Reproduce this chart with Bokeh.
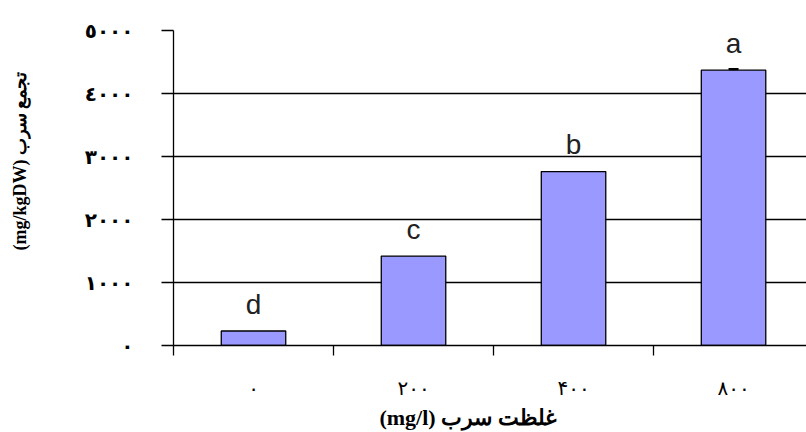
import numpy as np
from bokeh.plotting import figure
from bokeh.models import (Range1d, LinearAxis, FixedTicker, Grid, ColumnDataSource,
                          Whisker)
from bokeh.core.properties import value
from bokeh.embed import file_html
from bokeh.resources import INLINE

# ---- data ----
categories = ["۰", "٢٠٠", "۴٠٠", "٨٠٠"]          # lead concentration (mg/l)
lead_uptake = [230, 1420, 2760, 4370]             # mg/kgDW
group_letters = ["d", "c", "b", "a"]
errors = [0, 0, 0, 20]
y_ticks = [0, 1000, 2000, 3000, 4000, 5000]
y_tick_labels = ["٠", "١٠٠٠", "٢٠٠٠", "٣٠٠٠", "٤٠٠٠", "٥٠٠٠"]
x_title = "(mg/l) غلظت سرب"
y_title = "(mg/kgDW) تجمع سرب"

NBSP = "\u00a0"
n = len(categories)
centers = list(np.arange(n) + 0.5)
edges = list(np.arange(n + 1))

p = figure(width=806, height=432, output_backend="svg", toolbar_location=None,
           x_range=Range1d(0, 3.956), y_range=Range1d(0, 5000),
           x_axis_location=None, y_axis_location="left",
           min_border_left=173, min_border_right=0, min_border_top=30,
           min_border_bottom=87)
p.outline_line_color = None
p.background_fill_color = "white"
p.border_fill_color = "white"
p.xgrid.visible = False
p.ygrid.visible = False

src = ColumnDataSource(dict(x=centers, top=lead_uptake, lab=group_letters))
p.vbar(x="x", top="top", bottom=0, width=0.403, source=src,
       fill_color="#9999FF", line_color="black", line_width=1.3)

# grid lines
p.add_layout(Grid(dimension=1, ticker=FixedTicker(ticks=y_ticks[1:-1]),
                  grid_line_color="black", grid_line_width=1.3))
p.add_layout(Grid(dimension=1, ticker=FixedTicker(ticks=[y_ticks[-1]]),
                  grid_line_color="#a0a0a0", grid_line_width=1.3))

# letters
p.text(x="x", y="top", text="lab", source=src, text_align="center",
       text_baseline="alphabetic", y_offset=-27, text_color="#222222",
       text_font=value("Liberation Sans"), text_font_size="28px")

# error bar (only where > 0)
ex = [c for c, e in zip(centers, errors) if e > 0]
et = [v + e for v, e in zip(lead_uptake, errors) if e > 0]
eb = [v - e for v, e in zip(lead_uptake, errors) if e > 0]
wsrc = ColumnDataSource(dict(x=ex, upper=et, lower=eb))
w = Whisker(source=wsrc, base="x", upper="upper", lower="lower",
            line_color="black", line_width=2)
w.upper_head.size = 10
w.lower_head.size = 10
w.upper_head.line_width = 2
w.lower_head.line_width = 2
p.add_layout(w)

# y axis
yax = p.yaxis[0]
yax.ticker = FixedTicker(ticks=y_ticks)
yax.major_label_overrides = {t: l for t, l in zip(y_ticks, y_tick_labels)}
yax.major_tick_out = 12
yax.major_tick_in = 0
yax.minor_tick_out = 0
yax.minor_tick_in = 0
yax.axis_line_color = "black"
yax.axis_line_width = 1.3
yax.major_tick_line_width = 1.3
yax.major_label_standoff = 28
yax.major_label_text_font = "DejaVu Sans"
yax.major_label_text_font_style = "bold"
yax.major_label_text_font_size = "20px"
yax.major_label_text_color = "black"

# x axis: labels at category centres, tick marks at category edges
xax = LinearAxis(ticker=FixedTicker(ticks=centers, minor_ticks=edges),
                 major_label_overrides={c: l for c, l in zip(centers, categories)},
                 axis_line_width=1.3, axis_line_color="black",
                 major_tick_out=0, major_tick_in=0,
                 minor_tick_out=10, minor_tick_in=0, minor_tick_line_width=1.3,
                 minor_tick_line_color="black",
                 major_label_standoff=20,
                 major_label_text_font="DejaVu Sans",
                 major_label_text_font_size="20px",
                 major_label_text_color="black")
p.add_layout(xax, "below")

# axis titles on bare outer axes (non-breaking spaces shift them off-centre)
title_kw = dict(ticker=FixedTicker(ticks=[]), axis_line_color=None,
                major_tick_out=0, major_tick_in=0, minor_tick_out=0,
                minor_tick_in=0, major_label_standoff=0,
                axis_label_text_font="Liberation Serif",
                axis_label_text_font_style="bold", axis_label_text_color="black")
xt = LinearAxis(axis_label=x_title + NBSP * 8, axis_label_standoff=2,
                axis_label_text_font_size="22px", **title_kw)
p.add_layout(xt, "below")
yt = LinearAxis(axis_label=NBSP * 12 + y_title, axis_label_standoff=52,
                axis_label_text_font_size="18px", **title_kw)
p.add_layout(yt, "left")

open("out.html", "w").write(file_html(p, INLINE))
